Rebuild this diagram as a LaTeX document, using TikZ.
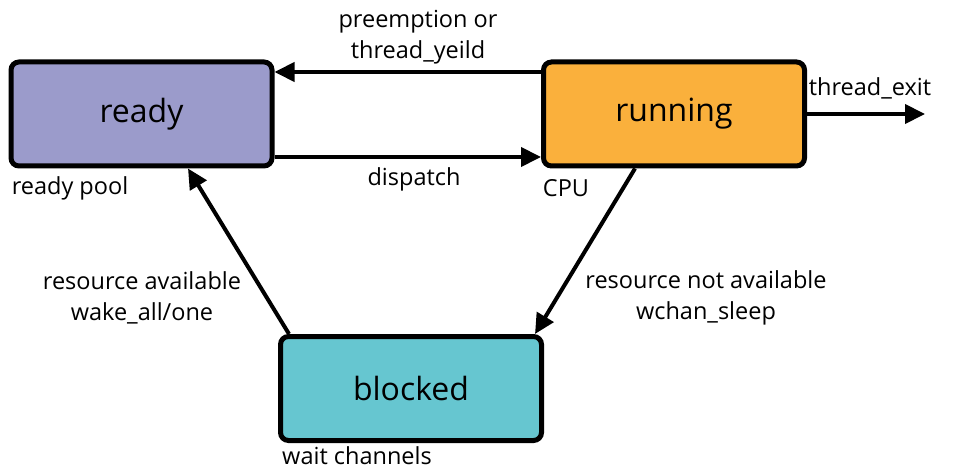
\documentclass[tikz,border=0pt]{standalone}
\usepackage{fontspec}
\setmainfont{Open Sans}
\usetikzlibrary{arrows.meta}
\definecolor{readycol}{RGB}{155,155,203}
\definecolor{runcol}{RGB}{250,176,60}
\definecolor{blockcol}{RGB}{102,198,208}
\tikzset{
	statebox/.style={draw,line width=5pt,rounded corners=8pt,minimum width=261pt,minimum height=104pt,font=\fontsize{32}{34}\selectfont},
	trans/.style={line width=4pt,-{Triangle[length=20pt,width=19pt]}},
	lbl/.style={font=\fontsize{23.5}{31}\selectfont,align=center,inner sep=1pt},
}
\begin{document}
\begin{tikzpicture}[x=1pt,y=-1pt]
	\useasboundingbox (0,0) rectangle (955,470);
	\node[statebox,fill=readycol] (ready) at (141.5,114) {ready};
	\node[statebox,fill=runcol] (running) at (674,114) {running};
	\node[statebox,fill=blockcol] (blocked) at (411,388.5) {blocked};
	\coordinate (exit) at (925,114);
	% transitions
	\draw[trans] (running.west |- 0,72) -- (ready.east |- 0,72);
	\draw[trans] (ready.east |- 0,157) -- (running.west |- 0,157);
	\draw[trans] (running) -- (exit);
	\draw[trans] (blocked.north west -| 289,0) -- (ready.south -| 188,0);
	\draw[trans] (running.south -| 635,0) -- (blocked.north east -| 535,0);
	% labels
	\node[lbl] (preempt) at (418,37.5) {preemption or\\thread\_yeild};
	\node[lbl] (dispatchlbl) at (414,179) {dispatch};
	\node[lbl] (exitlbl) at (870,88) {thread\_exit};
	\node[lbl] (pool) at (70,188) {ready pool};
	\node[lbl] (cpu) at (566,188) {CPU};
	\node[lbl] (wait) at (357,456) {wait channels};
	\node[lbl] (wake) at (142,297.5) {resource available\\wake\_all/one};
	\node[lbl] (sleep) at (706,297.5) {resource not available\\wchan\_sleep};
\end{tikzpicture}
\end{document}
